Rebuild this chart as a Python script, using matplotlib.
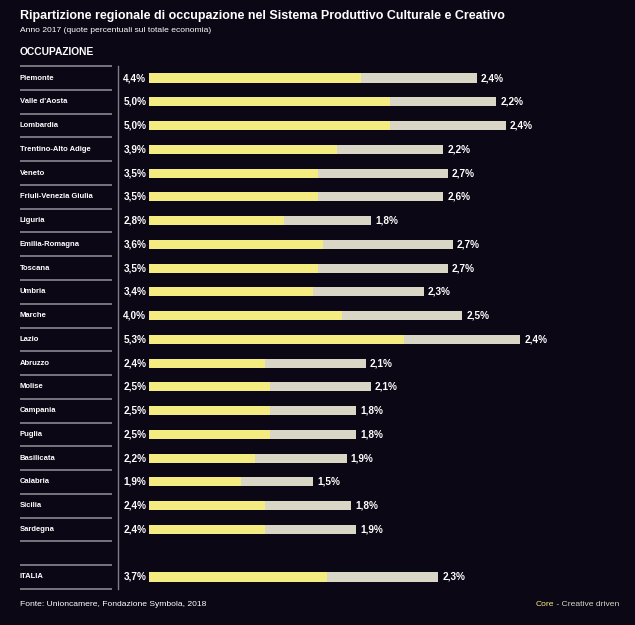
import matplotlib.pyplot as plt
import matplotlib.transforms as mtransforms

regions = ['Piemonte', "Valle d'Aosta", 'Lombardia', 'Trentino-Alto Adige', 'Veneto',
           'Friuli-Venezia Giulia', 'Liguria', 'Emilia-Romagna', 'Toscana', 'Umbria',
           'Marche', 'Lazio', 'Abruzzo', 'Molise', 'Campania', 'Puglia', 'Basilicata',
           'Calabria', 'Sicilia', 'Sardegna', 'ITALIA']
core = [4.4, 5.0, 5.0, 3.9, 3.5, 3.5, 2.8, 3.6, 3.5, 3.4, 4.0, 5.3,
        2.4, 2.5, 2.5, 2.5, 2.2, 1.9, 2.4, 2.4, 3.7]
creative = [2.4, 2.2, 2.4, 2.2, 2.7, 2.6, 1.8, 2.7, 2.7, 2.3, 2.5, 2.4,
            2.1, 2.1, 1.8, 1.8, 1.9, 1.5, 1.8, 1.9, 2.3]
rows = list(range(20)) + [21]

bg = '#0c0714'
yellow = '#f4ec80'
beige = '#d9d6c5'
line_col = '#807c88'
font = ['Liberation Sans', 'DejaVu Sans']
plt.rcParams['font.family'] = font

W, H = 635, 625
px = 48.2
row_px = 23.76

fig = plt.figure(figsize=(W / 100, H / 100), dpi=100, facecolor=bg)
ax = fig.add_axes([0, 0, 1, 1])
ax.set_facecolor(bg)
ax.axis('off')
ax.set_xlim(-149 / px, (W - 149) / px)
ax.set_ylim(21 + (H - 577) / row_px, -78 / row_px)

ax.barh(rows, core, height=0.38, color=yellow, linewidth=0)
ax.barh(rows, creative, left=core, height=0.38, color=beige, linewidth=0)

def pct(v):
    return f'{v:.1f}%'.replace('.', ',')

blend = mtransforms.blended_transform_factory(fig.transFigure, ax.transData)
for r, name, c, cr in zip(rows, regions, core, creative):
    ax.text(20 / W, r, name, transform=blend, color='white', fontsize=5.5,
            fontweight='bold', va='center', ha='left')
    ax.annotate(pct(c), (0, r), xytext=(-2, 0), textcoords='offset points',
                color='white', fontsize=7.2, fontweight='bold', va='center', ha='right')
    ax.annotate(pct(cr), (c + cr, r), xytext=(3, 0), textcoords='offset points',
                color='white', fontsize=7.2, fontweight='bold', va='center', ha='left')

# separators on the left
for y in [r - 0.5 for r in range(21)] + [20.5, 21.5]:
    ax.plot([20 / W, 112 / W], [y, y], transform=blend, color=line_col, lw=1.3,
            solid_capstyle='butt')
ax.plot([118 / W, 118 / W], [-0.5, 21.5], transform=blend, color=line_col, lw=1.0)

fig.text(20 / W, 1 - 16 / H, 'Ripartizione regionale di occupazione nel Sistema Produttivo Culturale e Creativo',
         color='white', fontsize=9.0, fontweight='bold', va='center', ha='left')
fig.text(20 / W, 1 - 30 / H, 'Anno 2017 (quote percentuali sul totale economia)',
         color='white', fontsize=6.1, va='center', ha='left')
fig.text(20 / W, 1 - 52 / H, 'OCCUPAZIONE', color='white', fontsize=7.4,
         fontweight='bold', va='center', ha='left')
fig.text(20 / W, 1 - 605 / H, 'Fonte: Unioncamere, Fondazione Symbola, 2018',
         color='white', fontsize=6.1, va='center', ha='left')
t = fig.text(619 / W, 1 - 605 / H, ' - Creative driven', color=beige, fontsize=6.1,
             va='center', ha='right')
fig.canvas.draw()
bb = t.get_window_extent().transformed(fig.transFigure.inverted())
fig.text(bb.x0, 1 - 605 / H, 'Core', color=yellow, fontsize=6.1, va='center', ha='right')

fig.savefig('out.png', dpi=100, facecolor=bg)
